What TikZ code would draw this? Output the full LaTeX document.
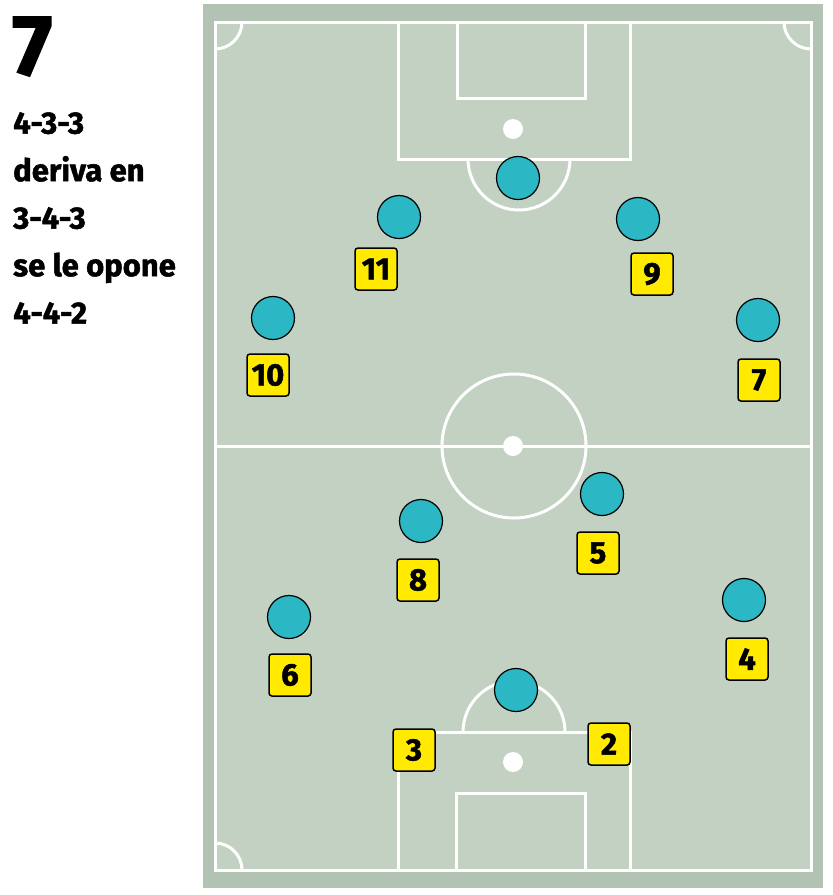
\documentclass[tikz,border=0pt]{standalone}
\usepackage{fontspec}
\setmainfont{Fira Sans}[BoldFeatures={FakeBold=1.6}]
\definecolor{borde}{HTML}{B3C3B3}
\definecolor{cesped}{HTML}{C2D1C2}
\definecolor{cian}{HTML}{2BB7C4}
\definecolor{amarillo}{HTML}{FFEA00}
\begin{document}
\begin{tikzpicture}[x=1pt,y=-1pt,
    linea/.style={white,line width=3pt},
    jugador/.style={circle,draw=black,line width=1.2pt,fill=cian,
                    minimum size=43pt,inner sep=0pt},
    dorsal/.style={rectangle,rounded corners=3pt,draw=black,line width=1.5pt,
                   fill=amarillo,minimum size=42pt,inner sep=0pt,
                   font=\fontsize{31}{31}\selectfont\bfseries}]
    \useasboundingbox (0,0) rectangle (833,895);

    % titulo
    \node[anchor=base west,inner sep=0pt,font=\fontsize{86}{86}\selectfont\bfseries]
      (titulo) at (12,75) {7};
    \node[anchor=north west,inner sep=0pt,align=left,
          font=\fontsize{31}{47.5}\selectfont\bfseries] (sistema) at (13,112)
      {4-3-3\\deriva en\\3-4-3\\se le opone\\4-4-2};

    % campo
    \fill[borde] (203,4) rectangle (823,888);
    \fill[cesped] (215,22) rectangle (811,870);
    \draw[linea] (215,22) rectangle (811,870);
    \draw[linea] (215,446) -- (811,446);
    \draw[linea] (514,446) circle[radius=72];
    \fill[white] (513,446) circle[radius=10];

    \draw[linea] (398,22) rectangle (630,159);
    \draw[linea] (457,22) rectangle (585,98);
    \fill[white] (513,129) circle[radius=10];
    \draw[linea] (570,159) arc[start angle=0,end angle=180,radius=51];

    \draw[linea] (398,870) rectangle (630,732);
    \draw[linea] (456,870) rectangle (585,793);
    \fill[white] (513,762) circle[radius=10];
    \draw[linea] (565,732) arc[start angle=0,end angle=-180,radius=51];

    \draw[linea] (242,22) arc[start angle=0,end angle=90,radius=27];
    \draw[linea] (784,22) arc[start angle=180,end angle=90,radius=27];
    \draw[linea] (242,870) arc[start angle=0,end angle=-90,radius=27];

    % jugadores
    \node[jugador] (p1a) at (518,178) {};
    \node[jugador] (p1b) at (516,690) {};
    \foreach \n/\px/\py/\dx/\dy in {11/399/217/376/269, 9/638/219/652/274,
        10/273/318/268/375, 7/758/320/759/380, 8/421/521/418/580,
        5/602/494/598/553, 6/289/617/290/675, 4/744/600/747/659}{
      \node[jugador] (p\n) at (\px,\py) {};
      \node[dorsal] (d\n) at (\dx,\dy) {\n};
    }
    \node[dorsal] (d3) at (414,750) {3};
    \node[dorsal] (d2) at (609,744) {2};
\end{tikzpicture}
\end{document}
